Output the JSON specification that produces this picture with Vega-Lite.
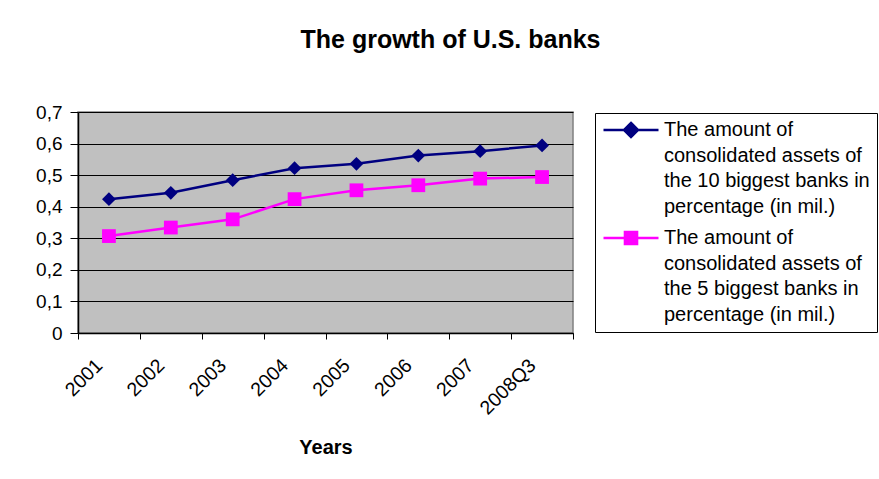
{
  "$schema": "https://vega.github.io/schema/vega-lite/v6.json",
  "autosize": "none",
  "width": 495,
  "height": 221,
  "padding": {"left": 78, "top": 112, "right": 306, "bottom": 146},
  "background": "white",
  "title": {
    "text": "The growth of U.S. banks",
    "font": "Liberation Sans",
    "fontSize": 25,
    "fontWeight": "bold",
    "color": "black",
    "anchor": "middle",
    "frame": "group",
    "dx": 125,
    "offset": 50
  },
  "data": {
    "values": [
      {"year": "2001", "series": "The amount of consolidated assets of the 10 biggest banks in percentage (in mil.)", "value": 0.424},
      {"year": "2002", "series": "The amount of consolidated assets of the 10 biggest banks in percentage (in mil.)", "value": 0.444},
      {"year": "2003", "series": "The amount of consolidated assets of the 10 biggest banks in percentage (in mil.)", "value": 0.484},
      {"year": "2004", "series": "The amount of consolidated assets of the 10 biggest banks in percentage (in mil.)", "value": 0.522},
      {"year": "2005", "series": "The amount of consolidated assets of the 10 biggest banks in percentage (in mil.)", "value": 0.536},
      {"year": "2006", "series": "The amount of consolidated assets of the 10 biggest banks in percentage (in mil.)", "value": 0.562},
      {"year": "2007", "series": "The amount of consolidated assets of the 10 biggest banks in percentage (in mil.)", "value": 0.576},
      {"year": "2008Q3", "series": "The amount of consolidated assets of the 10 biggest banks in percentage (in mil.)", "value": 0.594},
      {"year": "2001", "series": "The amount of consolidated assets of the 5 biggest banks in percentage (in mil.)", "value": 0.307},
      {"year": "2002", "series": "The amount of consolidated assets of the 5 biggest banks in percentage (in mil.)", "value": 0.334},
      {"year": "2003", "series": "The amount of consolidated assets of the 5 biggest banks in percentage (in mil.)", "value": 0.360},
      {"year": "2004", "series": "The amount of consolidated assets of the 5 biggest banks in percentage (in mil.)", "value": 0.424},
      {"year": "2005", "series": "The amount of consolidated assets of the 5 biggest banks in percentage (in mil.)", "value": 0.452},
      {"year": "2006", "series": "The amount of consolidated assets of the 5 biggest banks in percentage (in mil.)", "value": 0.468},
      {"year": "2007", "series": "The amount of consolidated assets of the 5 biggest banks in percentage (in mil.)", "value": 0.489},
      {"year": "2008Q3", "series": "The amount of consolidated assets of the 5 biggest banks in percentage (in mil.)", "value": 0.494}
    ]
  },
  "encoding": {
    "x": {
      "field": "year",
      "type": "ordinal",
      "sort": null,
      "scale": {"type": "band", "paddingInner": 0, "paddingOuter": 0},
      "axis": {
        "title": "Years",
        "titleFont": "Liberation Sans",
        "titleFontSize": 20,
        "titleFontWeight": "bold",
        "titleColor": "black",
        "titleX": 247.5,
        "titleY": 120,
        "titleAlign": "center",
        "titleBaseline": "alphabetic",
        "tickBand": "extent",
        "tickSize": 6,
        "tickColor": "black",
        "domainColor": "black",
        "domainWidth": 1.5,
        "labelAngle": -45,
        "labelAlign": "right",
        "labelBaseline": "middle",
        "labelOffset": -10,
        "labelPadding": 23,
        "labelFont": "Liberation Sans",
        "labelFontSize": 19.5,
        "labelColor": "black",
        "grid": false
      }
    },
    "y": {
      "field": "value",
      "type": "quantitative",
      "scale": {"domain": [0, 0.7], "nice": false, "zero": true},
      "axis": {
        "title": null,
        "values": [0, 0.1, 0.2, 0.3, 0.4, 0.5, 0.6, 0.7],
        "labelExpr": "datum.value == 0 ? '0' : replace(format(datum.value, '.1f'), '.', ',')",
        "labelFont": "Liberation Sans",
        "labelFontSize": 19,
        "labelColor": "black",
        "labelPadding": 8,
        "tickSize": 8,
        "tickColor": "black",
        "domainColor": "black",
        "domainWidth": 1.5,
        "grid": true,
        "gridColor": "black",
        "gridWidth": 1,
        "gridOpacity": 1
      }
    },
    "color": {
      "field": "series",
      "type": "nominal",
      "scale": {
        "domain": [
          "The amount of consolidated assets of the 10 biggest banks in percentage (in mil.)",
          "The amount of consolidated assets of the 5 biggest banks in percentage (in mil.)"
        ],
        "range": ["#000080", "#FF00FF"]
      },
      "legend": {
        "title": null,
        "orient": "none",
        "legendX": 517,
        "legendY": 1,
        "padding": 7,
        "strokeColor": "black",
        "fillColor": "white",
        "cornerRadius": 0,
        "symbolSize": 3025,
        "symbolStrokeWidth": 2.5,
        "labelOffset": 4,
        "labelFont": "Liberation Sans",
        "labelFontSize": 20,
        "labelColor": "black",
        "labelLimit": 400,
        "rowPadding": 9,
        "labelExpr": "indexof(datum.label, '10 biggest') >= 0 ? ['The amount of', 'consolidated assets of', 'the 10 biggest banks in', 'percentage (in mil.)'] : ['The amount of', 'consolidated assets of', 'the 5 biggest banks in', 'percentage (in mil.)']",
        "encode": {
          "labels": {"update": {"lineHeight": {"value": 25.5}, "y": {"value": 10}}},
          "symbols": {
            "update": {
              "y": {"value": 10},
              "shape": {"signal": "indexof(datum.value, '10 biggest') >= 0 ? 'M-1,0H1M0,-0.255L0.255,0L0,0.255L-0.255,0Z' : 'M-1,0H1M-0.22,-0.22H0.22V0.22H-0.22Z'"},
              "fill": {"signal": "indexof(datum.value, '10 biggest') >= 0 ? '#000080' : '#FF00FF'"},
              "stroke": {"signal": "indexof(datum.value, '10 biggest') >= 0 ? '#000080' : '#FF00FF'"},
              "fillOpacity": {"value": 1},
              "strokeWidth": {"value": 2.5}
            }
          }
        }
      }
    }
  },
  "layer": [
    {"mark": {"type": "line", "strokeWidth": 2.5}},
    {
      "mark": {"type": "point", "filled": true, "opacity": 1},
      "encoding": {
        "shape": {
          "field": "series",
          "type": "nominal",
          "scale": {"range": ["diamond", "square"]},
          "legend": null
        },
        "size": {"value": 190}
      }
    }
  ],
  "config": {
    "view": {"fill": "#C0C0C0", "stroke": "#808080", "strokeWidth": 1.5}
  }
}
